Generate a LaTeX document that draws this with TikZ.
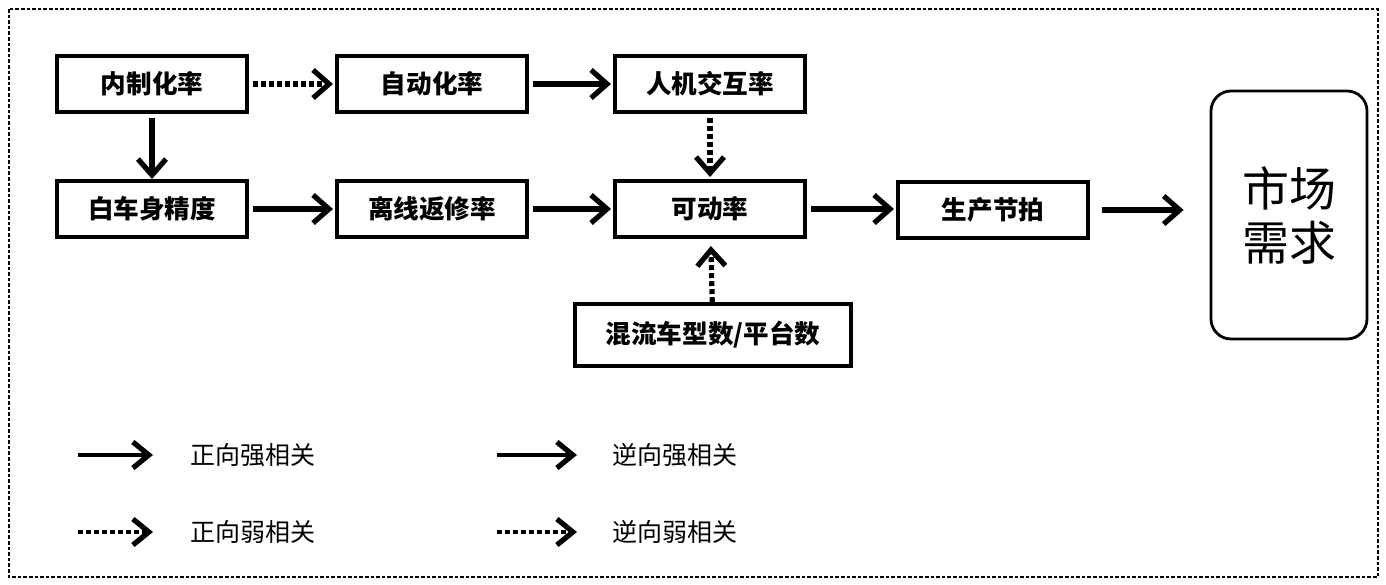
\documentclass[tikz,border=0pt]{standalone}
\usepackage{fontspec}
\setmainfont{Noto Sans CJK SC}
\usetikzlibrary{arrows.meta}
\tikzset{
  box/.style={draw, line width=2pt, minimum width=95pt, minimum height=28pt, inner sep=0pt,
    font=\bfseries\fontsize{12.8}{15}\selectfont},
  market/.style={draw, line width=1.4pt, rounded corners=10pt, minimum width=78pt, minimum height=124pt,
    align=center, font=\fontsize{23.5}{27}\selectfont},
  legtext/.style={anchor=center, font=\fontsize{12.5}{14}\selectfont},
  conn/.style={line width=2.6pt, -{Straight Barb[length=8pt,width=14pt,line width=2.6pt]}},
  legconn/.style={line width=2.4pt, -{Straight Barb[length=8pt,width=13pt,line width=2.6pt]}},
  weak/.style={dash pattern=on 2.4pt off 1.6pt},
  frame/.style={line width=1.2pt, dash pattern=on 1.8pt off 1pt},
}
\begin{document}
\begin{tikzpicture}[x=0.5pt,y=-0.5pt]
\useasboundingbox (0,0) rectangle (1386,584);
\draw[frame] (9,9) rectangle (1378,577);

\node[box] (A) at (152,84) {内制化率};
\node[box] (B) at (432,84) {自动化率};
\node[box] (C) at (710,84) {人机交互率};
\node[box] (D) at (152,209) {白车身精度};
\node[box] (E) at (432,209) {离线返修率};
\node[box] (F) at (710,209) {可动率};
\node[box] (G) at (993,210) {生产节拍};
\node[box, minimum width=138pt, minimum height=31pt] (H) at (713,335) {混流车型数/平台数};
\node[market] (M) at (1289,215) {市场\\需求};

\draw[conn, weak, shorten <=2pt, shorten >=1pt] (A) -- (B);
\draw[conn, shorten <=2pt, shorten >=1pt] (B) -- (C);
\draw[conn, shorten <=2pt] (A) -- (D);
\draw[conn, weak, shorten <=2pt, shorten >=1pt] (C) -- (F);
\draw[conn, shorten <=2pt, shorten >=1pt] (D) -- (E);
\draw[conn, shorten <=2pt, shorten >=1pt] (E) -- (F);
\draw[conn, shorten <=2pt, shorten >=1pt] (F.east) -- (G.west |- F.east);
\draw[conn, shorten <=6pt, shorten >=13pt] (G.east) -- (M.west |- G.east);
\draw[conn, weak, shorten >=3.5pt] (H) -- (F);

\coordinate (l1a) at (78,455);  \coordinate (l1b) at (153,455);
\coordinate (l2a) at (497,455); \coordinate (l2b) at (577,455);
\coordinate (l3a) at (78,532);  \coordinate (l3b) at (153,532);
\coordinate (l4a) at (497,532); \coordinate (l4b) at (577,532);
\draw[legconn] (l1a) -- (l1b);
\draw[legconn] (l2a) -- (l2b);
\draw[legconn, weak] (l3a) -- (l3b);
\draw[legconn, weak] (l4a) -- (l4b);
\node[legtext] (t1) at (253,455) {正向强相关};
\node[legtext] (t2) at (675,455) {逆向强相关};
\node[legtext] (t3) at (253,532) {正向弱相关};
\node[legtext] (t4) at (675,532) {逆向弱相关};
\end{tikzpicture}
\end{document}
